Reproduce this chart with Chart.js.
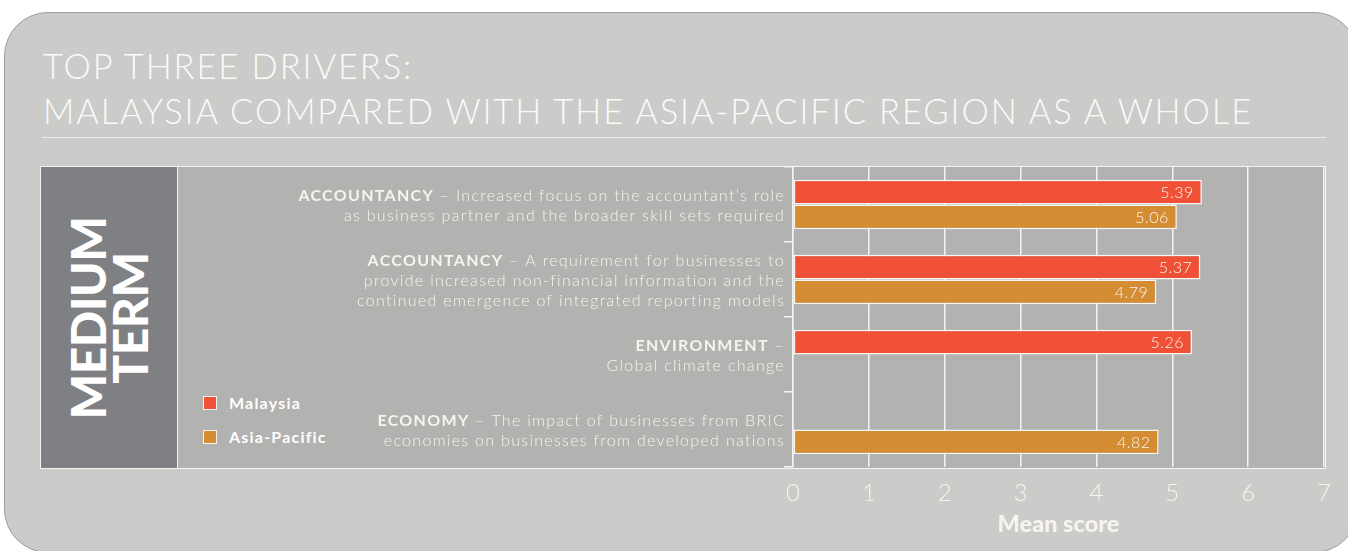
<!DOCTYPE html>
<html>
<head>
<meta charset="utf-8">
<script src="https://cdn.jsdelivr.net/npm/chart.js@4.4.0/dist/chart.umd.min.js"></script>
<style>
  html, body { margin: 0; padding: 0; background: #fff; width: 1348px; height: 551px; overflow: hidden; }
  body { font-family: Lato, "Open Sans", sans-serif; position: relative; }
  .panel {
    position: absolute; left: 4px; top: 12px; width: 1354px; height: 541px;
    background: #cbcbc9; border: 1.5px solid #9c9c9c; border-radius: 44px; box-sizing: border-box;
  }
  .title {
    position: absolute; left: 43px; top: 43px; color: #fafafa;
    font-weight: 300; font-size: 34.5px; line-height: 45px; letter-spacing: 1.9px;
  }
  .rule { position: absolute; left: 42px; top: 137px; width: 1284px; height: 1px; background: #ececec; }
  .box {
    position: absolute; left: 40px; top: 166px; width: 1286px; height: 303px;
    box-sizing: border-box; border: 1.5px solid #f4f4f4; background: #b2b2b0;
  }
  .term {
    position: absolute; left: 40px; top: 166px; width: 138px; height: 303px;
    box-sizing: border-box; border: 1.5px solid #f4f4f4; background: #7f8084;
  }
  .term span {
    position: absolute; left: 50%; top: 50%; transform: translate(-50%, -50%) rotate(-90deg);
    color: #fff; font-weight: 900; font-size: 48px; line-height: 42px; text-align: center; white-space: nowrap;
    letter-spacing: -0.5px;
  }
  .legend { position: absolute; left: 203px; top: 394px; color: #fff; font-weight: 700; font-size: 16px; letter-spacing: 1.2px; }
  .legend div { height: 34px; line-height: 17px; white-space: nowrap; }
  .legend i { display: inline-block; width: 12px; height: 12px; border: 1px solid #f2f2f2; vertical-align: -1px; margin-right: 12px; }
  #wrap { position: absolute; left: 178px; top: 160px; width: 1170px; height: 391px; }
</style>
</head>
<body>
<div class="panel"></div>
<div class="title">TOP THREE DRIVERS:<br>MALAYSIA COMPARED WITH THE ASIA-PACIFIC REGION AS A WHOLE</div>
<div class="rule"></div>
<div class="box"></div>
<div class="term"><span>MEDIUM<br>TERM</span></div>
<div class="legend" id="legend"></div>
<div id="wrap"><canvas id="chart"></canvas></div>
<script>
const driverHeads = ["ACCOUNTANCY", "ACCOUNTANCY", "ENVIRONMENT", "ECONOMY"];
const driverLines = [
  [" – Increased focus on the accountant’s role", "as business partner and the broader skill sets required"],
  [" – A requirement for businesses to", "provide increased non-financial information and the", "continued emergence of integrated reporting models"],
  [" –", "Global climate change"],
  [" – The impact of businesses from BRIC", "economies on businesses from developed nations"]
];
const seriesNames = ["Malaysia", "Asia-Pacific"];
const malaysia = [5.39, 5.37, 5.26, null];
const asiaPacific = [5.06, 4.79, null, 4.82];
const xMin = 0, xMax = 7;
const xTitle = "Mean score";

const colors = ["#ef5036", "#d58d33"];
const textColor = "#f7f4ef";

// html legend, same look as the original
document.getElementById("legend").innerHTML = seriesNames
  .map((n, i) => `<div><i style="background:${colors[i]}"></i>${n}</div>`).join("");

// driver descriptions: bold head + light text, right aligned next to axis
const driverLabels = {
  id: "driverLabels",
  afterDraw(chart) {
    const { ctx, scales: { y } } = chart;
    const right = y.right - 8;
    const lh = 20;
    ctx.save();
    ctx.fillStyle = textColor;
    ctx.textBaseline = "middle";
    ctx.textAlign = "right";
    ctx.letterSpacing = "1.3px";
    driverHeads.forEach((head, i) => {
      const lines = driverLines[i];
      let yy = y.getPixelForValue(i) + 1 - (lines.length - 1) * lh / 2;
      lines.forEach((line, j) => {
        ctx.font = "300 16px Lato";
        ctx.fillText(line, right, yy);
        if (j === 0) {
          const w = ctx.measureText(line).width;
          ctx.font = "700 16px Lato";
          ctx.fillText(head, right - w, yy);
        }
        yy += lh;
      });
    });
    ctx.restore();
  }
};

// value labels inside bar ends
const valueLabels = {
  id: "valueLabels",
  afterDatasetsDraw(chart) {
    const { ctx } = chart;
    ctx.save();
    ctx.fillStyle = textColor;
    ctx.font = "300 16px Lato";
    ctx.letterSpacing = "0.5px";
    ctx.textAlign = "right";
    ctx.textBaseline = "middle";
    chart.data.datasets.forEach((ds, di) => {
      chart.getDatasetMeta(di).data.forEach((bar, i) => {
        if (ds.data[i] == null) return;
        ctx.fillText(ds.data[i].toFixed(2), bar.x - 8, bar.y + 1);
      });
    });
    ctx.restore();
  }
};

new Chart(document.getElementById("chart"), {
  type: "bar",
  data: {
    labels: driverHeads,
    datasets: [
      { label: seriesNames[0], data: malaysia, backgroundColor: colors[0] },
      { label: seriesNames[1], data: asiaPacific, backgroundColor: colors[1] }
    ]
  },
  options: {
    indexAxis: "y",
    responsive: true,
    maintainAspectRatio: false,
    animation: false,
    layout: { padding: { top: 7, right: 24, left: 0, bottom: 0 } },
    datasets: {
      bar: {
        categoryPercentage: 0.66, barPercentage: 1,
        borderColor: "#f6f6f6", borderWidth: 1.5, borderSkipped: false
      }
    },
    plugins: { legend: { display: false }, tooltip: { enabled: false } },
    scales: {
      x: {
        min: xMin, max: xMax,
        ticks: { stepSize: 1, color: textColor, font: { family: "Lato", size: 24, weight: 300 }, padding: 12 },
        grid: { color: "#f4f4f4", lineWidth: 1.5, drawTicks: false },
        border: { display: false },
        title: { display: true, text: xTitle, color: textColor, font: { family: "Lato", size: 23.5, weight: 900 }, padding: { top: 0, bottom: 12 } },
        afterFit(scale) { scale.height = 84; }
      },
      y: {
        ticks: { display: false },
        grid: { color: "#f4f4f4", lineWidth: 1.5, drawOnChartArea: false, drawTicks: true, tickLength: 9 },
        border: { display: true, color: "#f4f4f4", width: 1.5 },
        afterFit(scale) { scale.width = 615; }
      }
    }
  },
  plugins: [driverLabels, valueLabels]
});
</script>
</body>
</html>
